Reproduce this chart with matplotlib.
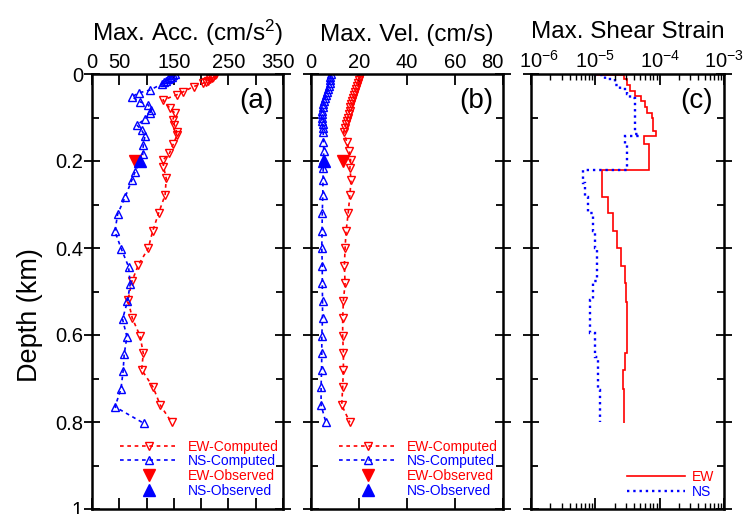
import numpy as np
import matplotlib
matplotlib.use("Agg")
import matplotlib.pyplot as plt
from matplotlib.ticker import FixedLocator, FuncFormatter, MultipleLocator, LogLocator, LogFormatterSciNotation
from matplotlib.transforms import ScaledTranslation
from matplotlib.lines import Line2D

plt.rcParams['font.family'] = ['Liberation Sans', 'DejaVu Sans']
plt.rcParams['mathtext.fontset'] = 'custom'
plt.rcParams['mathtext.rm'] = 'Liberation Sans'
plt.rcParams['mathtext.it'] = 'Liberation Sans:italic'
plt.rcParams['mathtext.bf'] = 'Liberation Sans:bold'
plt.rcParams['axes.unicode_minus'] = False

# ---------------- data ----------------
# (a) Max. acceleration (cm/s^2)
ew_acc_depth = [0.000, 0.003, 0.006, 0.009, 0.012, 0.015, 0.018, 0.021, 0.029, 0.041, 0.048, 0.060,
                0.079, 0.090, 0.106, 0.117, 0.133, 0.140, 0.161, 0.182, 0.198, 0.213, 0.240, 0.278,
                0.320, 0.362, 0.401, 0.439, 0.477, 0.520, 0.562, 0.602, 0.642, 0.680, 0.720, 0.761, 0.801]
ew_acc = [228, 225, 222, 219, 216, 212, 208, 204, 186, 167, 155, 130,
          143, 152, 148, 151, 155, 156, 149, 142, 130, 131, 136, 134,
          122, 111, 103, 85, 73, 66, 74, 88, 94, 91, 112, 125, 146]
ns_acc_depth = [0.000, 0.003, 0.006, 0.009, 0.012, 0.015, 0.018, 0.023, 0.037, 0.043, 0.052, 0.064,
                0.071, 0.083, 0.090, 0.104, 0.117, 0.129, 0.143, 0.163, 0.185, 0.225, 0.244, 0.282,
                0.322, 0.362, 0.403, 0.443, 0.483, 0.522, 0.564, 0.604, 0.644, 0.683, 0.725, 0.765, 0.803]
ns_acc = [152, 149, 146, 143, 140, 136, 132, 128, 106, 87, 73, 88,
          103, 109, 106, 97, 82, 91, 97, 94, 93, 79, 73, 61,
          47, 42, 54, 67, 70, 65, 56, 64, 59, 57, 53, 42, 95]
obs_depth = [0.2]
ew_acc_obs = [78]
ns_acc_obs = [88]

# (b) Max. velocity (cm/s)
vel_depth = [0.000, 0.007, 0.014, 0.021, 0.028, 0.035, 0.042, 0.049, 0.056, 0.063, 0.070, 0.077, 0.084,
             0.092, 0.100, 0.108, 0.116, 0.124, 0.133, 0.156, 0.178, 0.198, 0.217, 0.244, 0.278,
             0.320, 0.362, 0.401, 0.441, 0.481, 0.521, 0.562, 0.602, 0.641, 0.680, 0.719, 0.761, 0.801]
ew_vel = [20.5, 20.3, 20.0, 19.6, 19.2, 18.8, 18.4, 18.0, 17.6, 17.2, 16.8, 16.4, 16.1,
          15.7, 15.3, 14.9, 14.5, 14.0, 13.6, 14.9, 16.0, 16.5, 16.2, 16.7, 16.2,
          15.5, 14.6, 14.2, 13.9, 14.2, 13.5, 13.2, 13.2, 13.5, 13.5, 13.2, 12.8, 16.2]
ns_vel = [8.2, 8.1, 8.0, 7.8, 7.5, 7.2, 6.8, 6.4, 6.0, 5.6, 5.2, 4.8, 4.5,
          4.4, 4.5, 4.7, 4.9, 5.0, 5.1, 5.2, 5.3, 5.2, 5.1, 5.0, 4.9,
          4.7, 4.6, 4.5, 4.7, 4.7, 4.8, 4.8, 4.5, 4.5, 4.4, 4.2, 4.2, 6.2]
ew_vel_obs = [13.5]
ns_vel_obs = [5.4]

# (c) Max. shear strain (layer edges and per-layer values)
ew_strain_edges = [0.000, 0.003, 0.012, 0.025, 0.040, 0.050, 0.062, 0.075, 0.090, 0.100, 0.130, 0.143,
                   0.160, 0.221, 0.282, 0.320, 0.362, 0.401, 0.441, 0.481, 0.523, 0.642, 0.680, 0.723, 0.803]
ew_strain = [1.05e-5, 2.8e-5, 3.1e-5, 3.5e-5, 4.2e-5, 5.2e-5, 5.9e-5, 6.3e-5, 7.6e-5, 7.9e-5, 8.7e-5,
             5.75e-5, 6.8e-5, 1.26e-5, 1.58e-5, 1.9e-5, 2.2e-5, 2.5e-5, 2.9e-5, 3.0e-5, 3.16e-5,
             2.9e-5, 2.7e-5, 2.8e-5]
ns_strain_edges = [0.000, 0.003, 0.012, 0.025, 0.035, 0.045, 0.055, 0.138, 0.143, 0.160, 0.221, 0.250,
                   0.282, 0.320, 0.362, 0.401, 0.477, 0.520, 0.596, 0.650, 0.726, 0.800]
ns_strain = [1.0e-5, 1.4e-5, 2.0e-5, 2.4e-5, 3.1e-5, 3.5e-5, 4.2e-5, 4.7e-5, 2.9e-5, 3.1e-5, 6.5e-6,
             6.9e-6, 7.8e-6, 9.1e-6, 1.0e-5, 1.05e-5, 9.3e-6, 8.3e-6, 1.0e-5, 1.1e-5, 1.17e-5]

acc_ticks = [0, 50, 150, 250, 350]
acc_minor = [100, 200, 300]
vel_ticks = [0, 20, 40, 60, 80]
strain_ticks = [1e-6, 1e-5, 1e-4, 1e-3]
depth_ticks = [0, 0.2, 0.4, 0.6, 0.8, 1.0]

# ---------------- figure ----------------
W, H = 745, 514
fig = plt.figure(figsize=(W / 100, H / 100), dpi=100)

def px_axes(l, r, t=74, b=509):
    return fig.add_axes([l / W, (H - b) / H, (r - l) / W, (b - t) / H])

ax_a = px_axes(92, 283)
ax_b = px_axes(311, 503)
ax_c = px_axes(531, 724)

RED = '#ff0000'
BLUE = '#0000ff'
dash = (0, (2.2, 2.2))
TFS = 14.5
LFS = 10
TITLE_FS = 17.5
TITLE_PAD = 8.5

for ax in (ax_a, ax_b, ax_c):
    ax.set_ylim(1.0, 0.0)
    ax.xaxis.set_ticks_position('both')
    ax.xaxis.set_label_position('top')
    ax.tick_params(axis='x', which='both', direction='in', top=True, bottom=True,
                   labeltop=True, labelbottom=False, length=8, width=1.3, labelsize=TFS, pad=1.5)
    ax.yaxis.set_major_locator(FixedLocator(depth_ticks))
    ax.yaxis.set_minor_locator(MultipleLocator(0.1))
    ax.tick_params(axis='y', which='major', direction='inout', left=True, right=True,
                   length=11, width=1.3, labelsize=TFS, pad=1)
    ax.tick_params(axis='y', which='minor', direction='in', left=True, right=True,
                   length=5, width=1.3)
    for s in ax.spines.values():
        s.set_linewidth(1.8)

ax_a.yaxis.set_major_formatter(FuncFormatter(lambda v, p: '%g' % v))
ax_b.tick_params(axis='y', which='both', labelleft=False)
ax_c.tick_params(axis='y', which='both', labelleft=False)

# (a)
ax_a.set_xlim(0, 350)
ax_a.xaxis.set_major_locator(FixedLocator(acc_ticks))
ax_a.xaxis.set_minor_locator(FixedLocator(acc_minor))
ax_a.tick_params(axis='x', which='minor', direction='in', length=8, width=1.3)
ax_a.plot(ew_acc, ew_acc_depth, color=RED, linestyle=dash, lw=1.2, marker='v', ms=5.5,
          mfc='none', mec=RED, mew=1.0, label='EW-Computed')
ax_a.plot(ns_acc, ns_acc_depth, color=BLUE, linestyle=dash, lw=1.2, marker='^', ms=5.5,
          mfc='none', mec=BLUE, mew=1.0, label='NS-Computed')
ax_a.plot(ew_acc_obs, obs_depth, color=RED, linestyle='none', marker='v', ms=8.5, label='EW-Observed')
ax_a.plot(ns_acc_obs, obs_depth, color=BLUE, linestyle='none', marker='^', ms=8.5, label='NS-Observed')
ax_a.set_title('Max. Acc. (cm/s$^2$)', fontsize=TITLE_FS, pad=TITLE_PAD)
ax_a.set_ylabel('Depth (km)', fontsize=19.5)
ax_a.yaxis.set_label_coords(-0.255, 0.446)
ax_a.text(0.86, 0.937, '(a)', transform=ax_a.transAxes, fontsize=20, ha='center', va='center')

# (b)
ax_b.set_xlim(0, 80)
ax_b.xaxis.set_major_locator(FixedLocator(vel_ticks))
ax_b.plot(ew_vel, vel_depth, color=RED, linestyle=dash, lw=1.2, marker='v', ms=5.5,
          mfc='none', mec=RED, mew=1.0, label='EW-Computed')
ax_b.plot(ns_vel, vel_depth, color=BLUE, linestyle=dash, lw=1.2, marker='^', ms=5.5,
          mfc='none', mec=BLUE, mew=1.0, label='NS-Computed')
ax_b.plot(ew_vel_obs, obs_depth, color=RED, linestyle='none', marker='v', ms=8.5, label='EW-Observed')
ax_b.plot(ns_vel_obs, obs_depth, color=BLUE, linestyle='none', marker='^', ms=8.5, label='NS-Observed')
ax_b.set_title('Max. Vel. (cm/s)', fontsize=TITLE_FS, pad=TITLE_PAD)
ax_b.text(0.86, 0.937, '(b)', transform=ax_b.transAxes, fontsize=20, ha='center', va='center')

# (c)
ax_c.set_xscale('log')
ax_c.set_xlim(1e-6, 1e-3)
ax_c.xaxis.set_major_locator(FixedLocator(strain_ticks))
ax_c.xaxis.set_major_formatter(LogFormatterSciNotation())
ax_c.xaxis.set_minor_locator(LogLocator(base=10, subs=np.arange(2, 10), numticks=20))
ax_c.tick_params(axis='x', which='minor', direction='in', length=4, width=1.0,
                 labeltop=False, labelbottom=False)
ax_c.stairs(ew_strain, ew_strain_edges, orientation='horizontal', baseline=None,
            color=RED, lw=1.2, label='EW')
ax_c.stairs(ns_strain, ns_strain_edges, orientation='horizontal', baseline=None,
            color=BLUE, lw=1.7, linestyle=':', label='NS')
ax_c.set_title('Max. Shear Strain', fontsize=TITLE_FS, pad=TITLE_PAD)
ax_c.text(0.86, 0.937, '(c)', transform=ax_c.transAxes, fontsize=20, ha='center', va='center')

# legends
for ax in (ax_a, ax_b):
    ax.legend(loc='center left', bbox_to_anchor=(0.145, 0.093), frameon=False,
              fontsize=LFS, handlelength=4.2, handletextpad=0.7, labelspacing=0.05,
              borderpad=0, borderaxespad=0, numpoints=1, labelcolor='linecolor')

hc = [Line2D([], [], color=RED, lw=1.2), Line2D([], [], color=BLUE, lw=1.7, linestyle=':')]
ax_c.legend(hc, ['EW', 'NS'], loc='center left', bbox_to_anchor=(0.495, 0.057), frameon=False,
            fontsize=LFS, handlelength=4.2, handletextpad=0.5, labelspacing=0.05,
            borderpad=0, borderaxespad=0, labelcolor=[RED, BLUE])

# nudge edge tick labels apart (as in the original)
def nudge(tick, dx_px):
    lab = tick.label2
    lab.set_transform(lab.get_transform() + ScaledTranslation(dx_px / 100, 0, fig.dpi_scale_trans))

nudge(ax_a.xaxis.get_major_ticks()[-1], -5)
ax_b.xaxis.get_major_ticks()[-1].label2.set_horizontalalignment('right')
nudge(ax_c.xaxis.get_major_ticks()[0], 8)

fig.savefig('out.png', dpi=100)
